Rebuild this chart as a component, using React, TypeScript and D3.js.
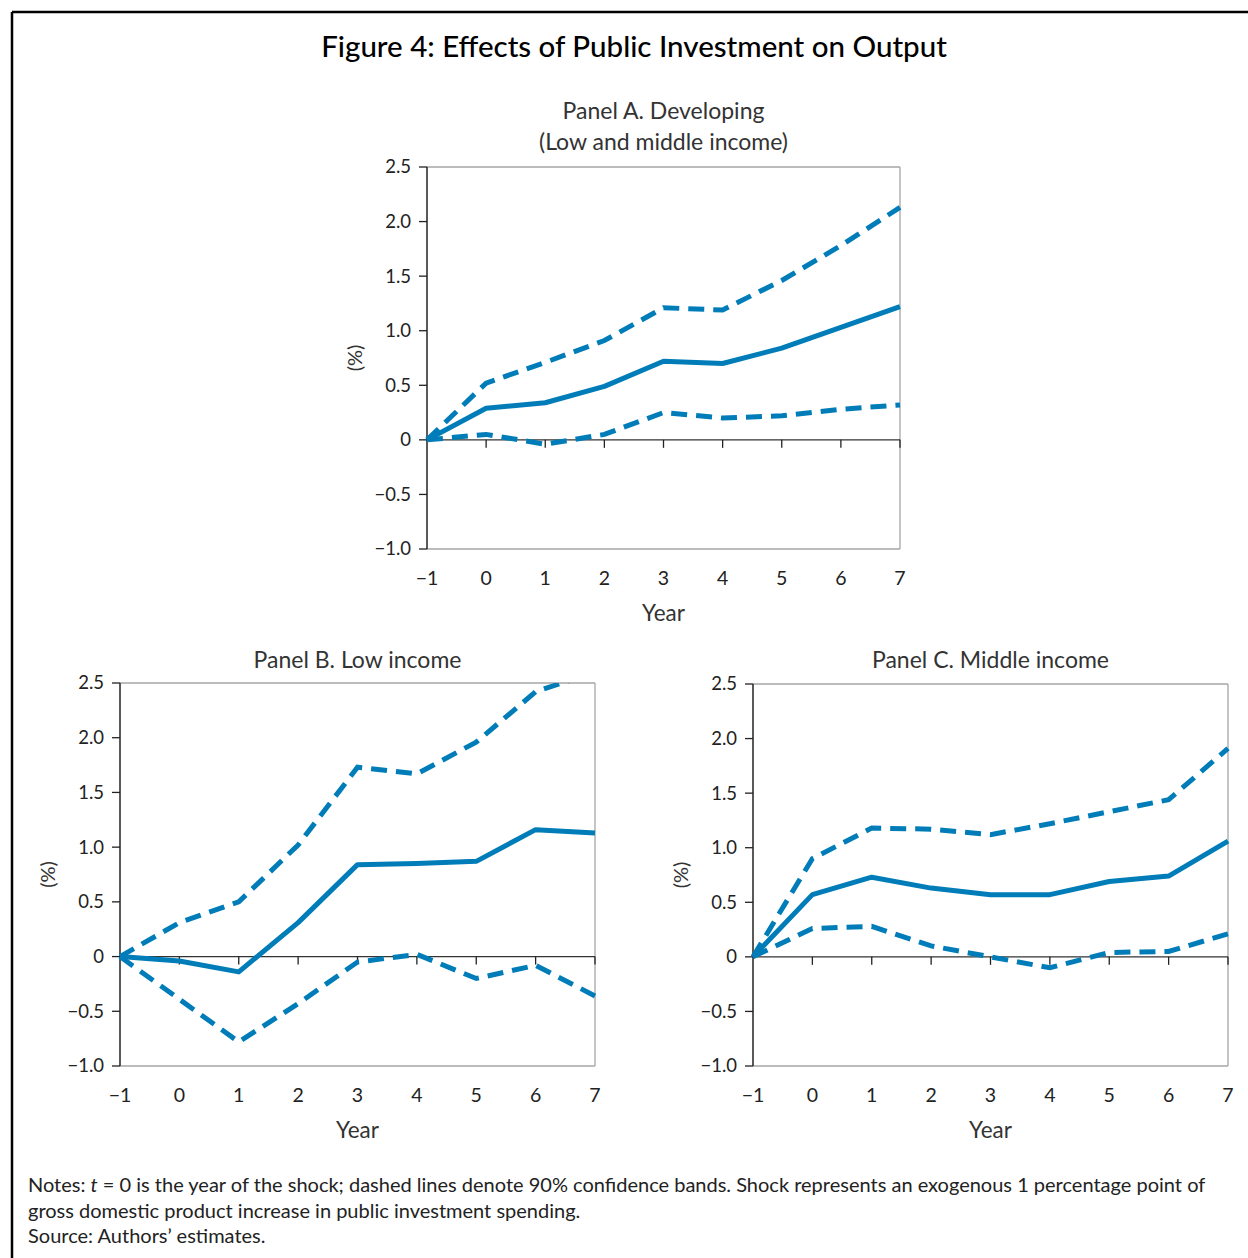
import React from "react";
import * as d3 from "d3";

const years = [-1, 0, 1, 2, 3, 4, 5, 6, 7];
const yTicks = [-1.0, -0.5, 0, 0.5, 1.0, 1.5, 2.0, 2.5];

const aMid = [0, 0.29, 0.34, 0.49, 0.72, 0.7, 0.84, 1.03, 1.22];
const aUpper = [0, 0.52, 0.71, 0.91, 1.21, 1.19, 1.46, 1.78, 2.13];
const aLower = [0, 0.05, -0.04, 0.05, 0.25, 0.2, 0.22, 0.28, 0.32];

const bMid = [0, -0.04, -0.14, 0.31, 0.84, 0.85, 0.87, 1.16, 1.13];
const bUpper = [0, 0.31, 0.5, 1.02, 1.73, 1.67, 1.96, 2.42, 2.6];
const bLower = [0, -0.39, -0.78, -0.43, -0.05, 0.02, -0.2, -0.08, -0.36];

const cMid = [0, 0.57, 0.73, 0.63, 0.57, 0.57, 0.69, 0.74, 1.06];
const cUpper = [0, 0.9, 1.18, 1.17, 1.12, 1.22, 1.33, 1.44, 1.91];
const cLower = [0, 0.26, 0.28, 0.1, 0.0, -0.1, 0.04, 0.05, 0.21];

const BLUE = "#007db8";
const FONT = "Lato, 'Open Sans', sans-serif";

function fmtY(v: number) {
  if (v === 0) return "0";
  const s = Math.abs(v).toFixed(1);
  return (v < 0 ? "\u2212" : "") + s;
}
function fmtX(v: number) {
  return v < 0 ? "\u2212" + Math.abs(v) : String(v);
}

type PanelProps = {
  id: string;
  left: number;
  right: number;
  top: number;
  bottom: number;
  titles: string[];
  titleY: number;
  mid: number[];
  upper: number[];
  lower: number[];
};

function Panel(p: PanelProps) {
  const x = d3.scaleLinear().domain([-1, 7]).range([p.left, p.right]);
  const y = d3.scaleLinear().domain([-1, 2.5]).range([p.bottom, p.top]);
  const line = d3
    .line<number>()
    .x((_, i) => x(years[i]))
    .y((d) => y(d));
  const cx = (p.left + p.right) / 2;
  const clipId = "clip-" + p.id;
  return (
    <g>
      <defs>
        <clipPath id={clipId}>
          <rect x={p.left - 4} y={p.top} width={p.right - p.left + 8} height={p.bottom - p.top} />
        </clipPath>
      </defs>
      {p.titles.map((t, i) => (
        <text
          key={i}
          x={cx}
          y={p.titleY + i * 31}
          textAnchor="middle"
          fontSize={23}
          fill="#333"
          fontFamily={FONT}
        >
          {t}
        </text>
      ))}
      <line x1={p.left} x2={p.right} y1={p.top} y2={p.top} stroke="#a6a6a6" strokeWidth={1.3} />
      <line x1={p.right} x2={p.right} y1={p.top} y2={p.bottom} stroke="#a6a6a6" strokeWidth={1.3} />
      <line x1={p.left} x2={p.right} y1={p.bottom} y2={p.bottom} stroke="#a6a6a6" strokeWidth={1.3} />
      <line x1={p.left} x2={p.right} y1={y(0)} y2={y(0)} stroke="#333" strokeWidth={1.3} />
      <line x1={p.left} x2={p.left} y1={p.top} y2={p.bottom} stroke="#222" strokeWidth={1.5} />
      {yTicks.map((t) => (
        <g key={t}>
          <line x1={p.left - 8} x2={p.left} y1={y(t)} y2={y(t)} stroke="#222" strokeWidth={1.3} />
          <text
            x={p.left - 16}
            y={y(t)}
            dy="0.35em"
            textAnchor="end"
            fontSize={18.5}
            fill="#222"
            fontFamily={FONT}
          >
            {fmtY(t)}
          </text>
        </g>
      ))}
      {years.map((t) => (
        <g key={t}>
          {t > -1 && (
            <line x1={x(t)} x2={x(t)} y1={y(0)} y2={y(0) + 8} stroke="#222" strokeWidth={1.3} />
          )}
          <text
            x={x(t)}
            y={p.bottom + 36}
            textAnchor="middle"
            fontSize={19.5}
            fill="#222"
            fontFamily={FONT}
          >
            {fmtX(t)}
          </text>
        </g>
      ))}
      <text
        x={cx}
        y={p.bottom + 72}
        textAnchor="middle"
        fontSize={22.5}
        fill="#333"
        fontFamily={FONT}
      >
        Year
      </text>
      <text
        transform={`translate(${p.left - 72},${y(0.75)}) rotate(-90)`}
        textAnchor="middle"
        dy="0.35em"
        fontSize={20}
        fill="#333"
        fontFamily={FONT}
      >
        (%)
      </text>
      <g clipPath={`url(#${clipId})`}>
        <path d={line(p.upper) || ""} fill="none" stroke={BLUE} strokeWidth={5} strokeDasharray="16 9" />
        <path d={line(p.lower) || ""} fill="none" stroke={BLUE} strokeWidth={5} strokeDasharray="16 9" />
        <path d={line(p.mid) || ""} fill="none" stroke={BLUE} strokeWidth={5} strokeLinejoin="round" />
      </g>
    </g>
  );
}

export default function App() {
  return (
    <div style={{ position: "absolute", left: 0, top: 0 }}>
      <svg width={1248} height={1258} style={{ display: "block", background: "#fff" }}>
        <rect x={0} y={0} width={1248} height={1258} fill="#fff" />
        <line x1={12} x2={1248} y1={12} y2={12} stroke="#000" strokeWidth={2.5} />
        <line x1={12} x2={12} y1={12} y2={1258} stroke="#000" strokeWidth={2.5} />
        <text
          x={634}
          y={57}
          textAnchor="middle"
          fontSize={29.5}
          fontWeight={500}
          fill="#000"
          fontFamily={FONT}
        >
          Figure 4: Effects of Public Investment on Output
        </text>
        <Panel
          id="a"
          left={427}
          right={900}
          top={167}
          bottom={549}
          titles={["Panel A. Developing", "(Low and middle income)"]}
          titleY={119}
          mid={aMid}
          upper={aUpper}
          lower={aLower}
        />
        <Panel
          id="b"
          left={120}
          right={595}
          top={683}
          bottom={1066}
          titles={["Panel B. Low income"]}
          titleY={668}
          mid={bMid}
          upper={bUpper}
          lower={bLower}
        />
        <Panel
          id="c"
          left={753}
          right={1228}
          top={684}
          bottom={1066}
          titles={["Panel C. Middle income"]}
          titleY={668}
          mid={cMid}
          upper={cUpper}
          lower={cLower}
        />
        <g fontFamily={FONT} fontSize={20} fill="#222">
          <text x={28} y={1192}>
            Notes: <tspan fontStyle="italic">t</tspan> = 0 is the year of the shock; dashed lines denote 90% confidence bands. Shock represents an exogenous 1 percentage point of
          </text>
          <text x={28} y={1218}>
            gross domestic product increase in public investment spending.
          </text>
          <text x={28} y={1243}>
            Source: Authors’ estimates.
          </text>
        </g>
      </svg>
    </div>
  );
}
